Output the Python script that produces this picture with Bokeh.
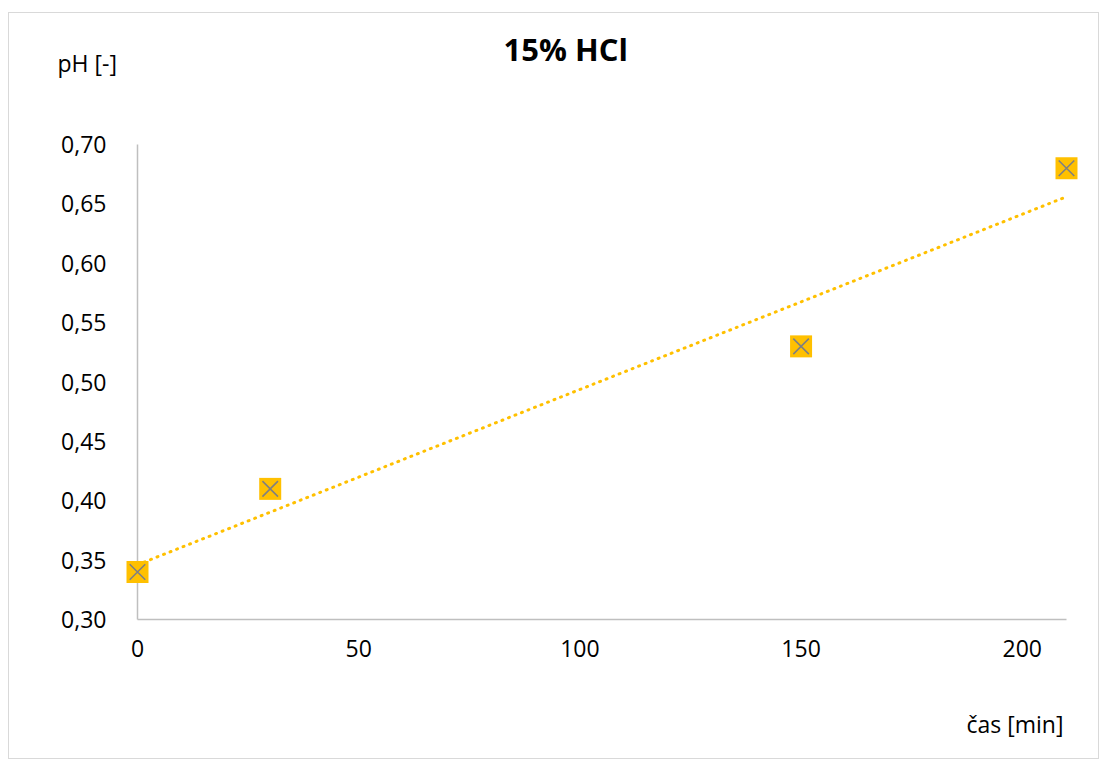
import numpy as np
from bokeh.plotting import figure
from bokeh.models import Range1d, FixedTicker, CustomJSTickFormatter, ColumnDataSource, Title
from bokeh.embed import file_html
from bokeh.resources import INLINE

# data
time_min = [0, 30, 150, 210]
ph_values = [0.34, 0.41, 0.53, 0.68]
x_ticks = [0, 50, 100, 150, 200]
y_ticks = [0.30, 0.35, 0.40, 0.45, 0.50, 0.55, 0.60, 0.65, 0.70]
title_text = "15% HCl"
y_label = "pH [-]"
x_label = "čas [min]"

FONT = "Open Sans"
GOLD = "#FFC000"

p = figure(frame_width=929, frame_height=475,
           x_range=Range1d(0, 210), y_range=Range1d(0.30, 0.70),
           output_backend="svg", toolbar_location=None,
           min_border_left=128, min_border_right=32,
           min_border_top=131, min_border_bottom=139)
p.styles = {"border": "1px solid #d9d9d9", "margin": "12px 0 0 8px"}
p.title.text = title_text
p.title.text_font = FONT
p.title.text_font_size = "31px"
p.title.text_font_style = "bold"
p.title.text_color = "black"
p.title.align = "left"
p.title.offset = 366
p.title.standoff = -50
p.grid.visible = False
p.outline_line_color = None
p.background_fill_color = "white"
p.border_fill_color = "white"

for ax in (p.xaxis[0], p.yaxis[0]):
    ax.axis_line_color = "#bfbfbf"
    ax.axis_line_width = 1.5
    ax.major_tick_line_color = None
    ax.minor_tick_line_color = None
    ax.major_label_text_font = FONT
    ax.major_label_text_font_size = "23px"
    ax.major_label_text_color = "black"

p.xaxis[0].ticker = FixedTicker(ticks=x_ticks)
p.yaxis[0].ticker = FixedTicker(ticks=y_ticks)
p.yaxis[0].formatter = CustomJSTickFormatter(code="return tick.toFixed(2).replace('.', ',');")
p.xaxis[0].formatter = CustomJSTickFormatter(code="return tick.toFixed(0);")
p.yaxis[0].major_label_standoff = 25
p.xaxis[0].major_label_standoff = 14

# trend line (least squares from data)
slope, intercept = np.polyfit(time_min, ph_values, 1)
tx = [min(time_min), max(time_min)]
ty = [intercept + slope * v for v in tx]
p.line(tx, ty, line_color=GOLD, line_width=3, line_dash="1 6", line_cap="round")

src = ColumnDataSource(dict(x=time_min, y=ph_values))
r1 = p.scatter("x", "y", source=src, marker="square", size=22, fill_color=GOLD, line_color=None)
r2 = p.scatter("x", "y", source=src, marker="x", size=22, line_color="#808080", line_width=1.6)
r1.level = "overlay"
r2.level = "overlay"

# spacer panels + axis-name titles
p.add_layout(Title(text=" ", text_font=FONT, text_font_size="23px", standoff=32), "above")
p.add_layout(Title(text=y_label, text_font=FONT, text_font_size="23px", text_color="black",
                   text_font_style="normal", align="left", offset=-80, standoff=0), "above")
p.add_layout(Title(text=" ", text_font=FONT, text_font_size="23px", standoff=12), "below")
p.add_layout(Title(text=x_label, text_font=FONT, text_font_size="23px", text_color="black",
                   text_font_style="normal", align="right", offset=3, standoff=0), "below")

open("out.html", "w").write(file_html(p, INLINE))
